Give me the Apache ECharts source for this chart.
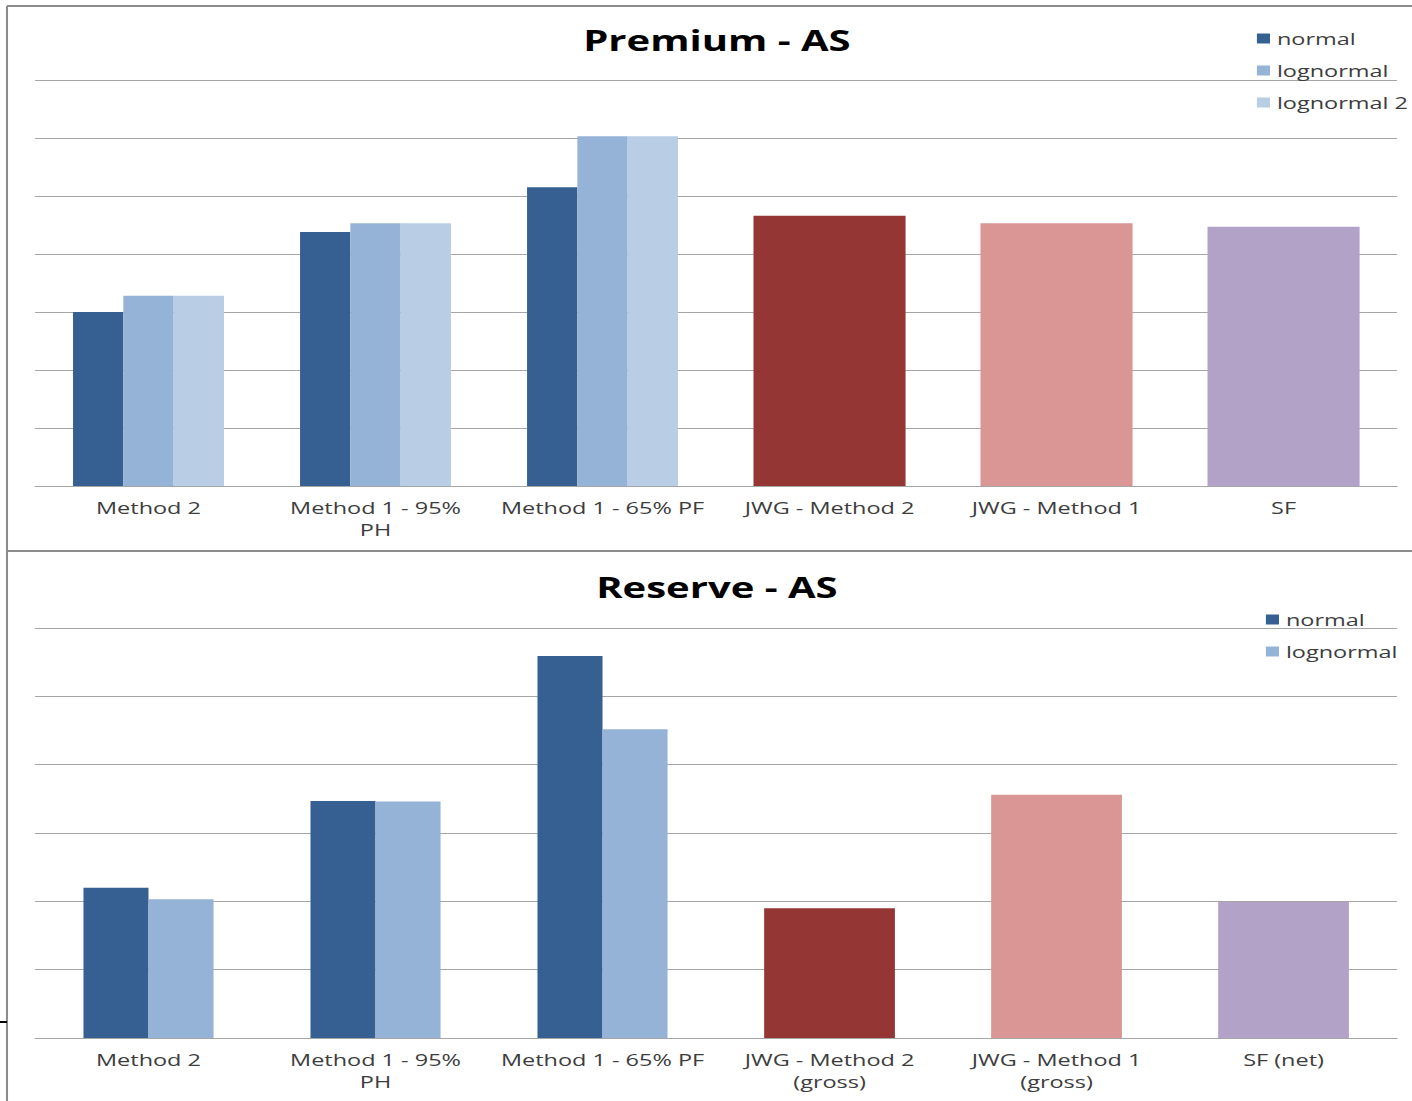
<!DOCTYPE html>
<html>
<head>
<meta charset="utf-8">
<title>Premium / Reserve - AS</title>
<script src="https://cdn.jsdelivr.net/npm/echarts@6/dist/echarts.min.js"></script>
<style>
  html, body { margin: 0; padding: 0; background: #fff; overflow: hidden; }
  /* the chart is laid out narrow and then widened, giving the broad lettering of the original slide */
  #chart { width: 1023px; height: 1101px; transform: scaleX(1.3803); transform-origin: 0 0; }
</style>
</head>
<body>
<div id="chart"></div>
<script>
// Premium - AS
const premiumCategories = ['Method 2', 'Method 1 - 95%\nPH', 'Method 1 - 65% PF', 'JWG - Method 2', 'JWG - Method 1', 'SF'];
const premiumNormal = [3.0, 4.38, 5.15, null, null, null];
const premiumLognormal = [3.28, 4.53, 6.03, null, null, null];
const premiumLognormal2 = [3.28, 4.53, 6.03, null, null, null];
const premiumSingle = [null, null, null, 4.66, 4.53, 4.47];

// Reserve - AS
const reserveCategories = ['Method 2', 'Method 1 - 95%\nPH', 'Method 1 - 65% PF', 'JWG - Method 2\n(gross)', 'JWG - Method 1\n(gross)', 'SF (net)'];
const reserveNormal = [2.2, 3.47, 5.59, null, null, null];
const reserveLognormal = [2.03, 3.46, 4.52, null, null, null];
const reserveSingle = [null, null, null, 1.90, 3.56, 1.99];

const singleColors = [null, null, null, '#943634', '#D99694', '#B3A2C7'];
const C_NORMAL = '#376092';
const C_LOG = '#95B3D7';
const C_LOG2 = '#B9CDE5';
const FONT = '"Open Sans", sans-serif';
const SX = 1.3803; // horizontal stretch applied to the chart box

function colored(values) {
  return values.map((v, i) => v == null ? null : { value: v, itemStyle: { color: singleColors[i] } });
}

const chart = echarts.init(document.getElementById('chart'), null, { renderer: 'svg' });

const axisLabel = { color: '#3d3d3d', fontSize: 17, fontFamily: FONT, margin: 10, lineHeight: 22, interval: 0 };
const gridLine = { lineStyle: { color: '#A6A6A6', width: 1 } };

function catAxis(gridIndex, cats, show) {
  return {
    type: 'category', gridIndex, data: cats, show,
    axisTick: { show: false },
    axisLine: { show: show, lineStyle: { color: '#A6A6A6' } },
    axisLabel
  };
}
function valAxis(gridIndex, max) {
  return {
    type: 'value', gridIndex, min: 0, max, interval: 1,
    axisLabel: { show: false }, axisTick: { show: false }, axisLine: { show: false },
    splitLine: Object.assign({ show: true }, gridLine)
  };
}

const legendText = { fontSize: 17, color: '#3d3d3d', fontFamily: FONT };

const option = {
  backgroundColor: '#ffffff',
  animation: false,
  title: [
    { text: 'Premium - AS', left: 710 / SX, top: 20, textAlign: 'center',
      textStyle: { fontSize: 29, fontWeight: 'bold', color: '#000', fontFamily: FONT } },
    { text: 'Reserve - AS', left: 710 / SX, top: 567, textAlign: 'center',
      textStyle: { fontSize: 29, fontWeight: 'bold', color: '#000', fontFamily: FONT } }
  ],
  legend: [
    { data: ['normal', 'lognormal', 'lognormal 2'], orient: 'vertical', left: 1250 / SX, top: 25,
      itemWidth: 9.5, itemHeight: 10, itemGap: 15, icon: 'rect', selectedMode: false,
      textStyle: legendText },
    { data: ['normal', 'lognormal'], orient: 'vertical', left: 1259 / SX, top: 606,
      itemWidth: 9.5, itemHeight: 10, itemGap: 15, icon: 'rect', selectedMode: false,
      textStyle: legendText }
  ],
  grid: [
    { left: 35 / SX, right: 15 / SX, top: 80, height: 406 },
    { left: 35 / SX, right: 15 / SX, top: 628, height: 410 }
  ],
  xAxis: [
    catAxis(0, premiumCategories, true),
    catAxis(0, premiumCategories, false),
    catAxis(1, reserveCategories, true),
    catAxis(1, reserveCategories, false)
  ],
  yAxis: [valAxis(0, 7), valAxis(1, 6)],
  series: [
    { name: 'normal', type: 'bar', xAxisIndex: 0, yAxisIndex: 0, data: premiumNormal,
      itemStyle: { color: C_NORMAL }, barGap: '0%', barCategoryGap: '33.5%' },
    { name: 'lognormal', type: 'bar', xAxisIndex: 0, yAxisIndex: 0, data: premiumLognormal,
      itemStyle: { color: C_LOG }, barGap: '0%', barCategoryGap: '33.5%' },
    { name: 'lognormal 2', type: 'bar', xAxisIndex: 0, yAxisIndex: 0, data: premiumLognormal2,
      itemStyle: { color: C_LOG2 }, barGap: '0%', barCategoryGap: '33.5%' },
    { name: 'premium single', type: 'bar', xAxisIndex: 1, yAxisIndex: 0, data: colored(premiumSingle),
      barCategoryGap: '33%' },

    { name: 'normal', type: 'bar', xAxisIndex: 2, yAxisIndex: 1, data: reserveNormal,
      itemStyle: { color: C_NORMAL }, barGap: '0%', barCategoryGap: '42.7%' },
    { name: 'lognormal', type: 'bar', xAxisIndex: 2, yAxisIndex: 1, data: reserveLognormal,
      itemStyle: { color: C_LOG }, barGap: '0%', barCategoryGap: '42.7%' },
    { name: 'reserve single', type: 'bar', xAxisIndex: 3, yAxisIndex: 1, data: colored(reserveSingle),
      barCategoryGap: '42.4%' }
  ],
  graphic: [
    // frame lines around and between the two panels
    { type: 'line', shape: { x1: 7 / SX, y1: 6, x2: 1412 / SX, y2: 6 }, style: { stroke: '#8C8C8C', lineWidth: 2 } },
    { type: 'line', shape: { x1: 7 / SX, y1: 6, x2: 7 / SX, y2: 1101 }, style: { stroke: '#8C8C8C', lineWidth: 1.5 } },
    { type: 'line', shape: { x1: 7 / SX, y1: 551, x2: 1412 / SX, y2: 551 }, style: { stroke: '#8C8C8C', lineWidth: 2 } },
    { type: 'line', shape: { x1: 0, y1: 1022, x2: 7 / SX, y2: 1022 }, style: { stroke: '#000', lineWidth: 2 } }
  ]
};

chart.setOption(option);
</script>
</body>
</html>
